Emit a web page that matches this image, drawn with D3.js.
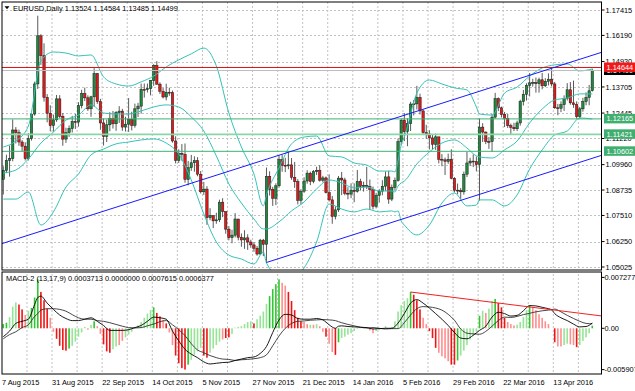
<!DOCTYPE html>
<html><head><meta charset="utf-8">
<script src="https://cdn.jsdelivr.net/npm/d3@7/dist/d3.min.js"></script>
<style>
html,body{margin:0;padding:0;background:#fff;}
svg{display:block;}
text{font-family:"Liberation Sans",Arial,Helvetica,sans-serif;font-size:7.4px;fill:#000;}
</style></head><body>
<svg id="chart" width="635" height="391"></svg>
<script>
// ---------------- DATA ----------------
const symbolTitle = "EURUSD,Daily";
const dateLabels = ["7 Aug 2015","31 Aug 2015","22 Sep 2015","14 Oct 2015","5 Nov 2015","27 Nov 2015","21 Dec 2015","14 Jan 2016","5 Feb 2016","29 Feb 2016","22 Mar 2016","13 Apr 2016"];
const dateLabelBar = [0,16,32,48,64,80,96,112,128,144,160,176];
const priceTicks = [1.17415,1.16190,1.14930,1.13705,1.12445,1.11220,1.09960,1.08735,1.07510,1.06250,1.05025];
const macdTicks = [0.007277,0,-0.005907];

const open = [1.0925,1.0968,1.1016,1.1025,1.1163,1.1150,1.1105,1.1085,1.1025,1.1121,
1.1240,1.1385,1.1617,1.1521,1.1320,1.1244,1.1184,1.1212,1.1313,1.1229,
1.1119,1.1150,1.1170,1.1204,1.1201,1.1280,1.1338,1.1318,1.1265,1.1323,
1.1435,1.1300,1.1197,1.1132,1.1188,1.1218,1.1193,1.1247,1.1254,1.1177,
1.1191,1.1214,1.1185,1.1265,1.1278,1.1359,1.1358,1.1362,1.1401,1.1474,
1.1384,1.1350,1.1322,1.1345,1.1343,1.1110,1.1016,1.1050,1.1046,1.0925,
1.0981,1.1005,1.1015,1.0950,1.0865,1.0878,1.0740,1.0750,1.0725,1.0730,
1.0815,1.0770,1.0685,1.0644,1.0656,1.0734,1.0646,1.0633,1.0643,1.0623,
1.0609,1.0593,1.0565,1.0632,1.0612,1.0940,1.0877,1.0834,1.0894,1.1021,
1.0993,1.0990,1.0995,1.0935,1.0914,1.0824,1.0868,1.0917,1.0955,1.0915,
1.0962,1.0969,1.0921,1.0932,1.0861,1.0826,1.0746,1.0778,1.0931,1.0922,
1.0858,1.0854,1.0873,1.0867,1.0915,1.0891,1.0896,1.0890,1.0876,1.0795,
1.0848,1.0868,1.0892,1.0937,1.0830,1.0886,1.0919,1.1107,1.1210,1.1155,
1.1194,1.1288,1.1289,1.1320,1.1255,1.1150,1.1144,1.1125,1.1094,1.1130,
1.1022,1.1019,1.1012,1.1022,1.0930,1.0873,1.0871,1.0865,1.0950,1.1004,
1.1013,1.1010,1.0996,1.1177,1.1153,1.1108,1.1107,1.1225,1.1314,1.1270,
1.1237,1.1219,1.1184,1.1176,1.1169,1.1197,1.1300,1.1335,1.1378,1.1390,
1.1392,1.1386,1.1405,1.1376,1.1398,1.1408,1.1385,1.1270,1.1268,1.1285,
1.1314,1.1357,1.1294,1.1285,1.1227,1.1265,1.1300,1.1320,1.13524];

const high = [1.0988,1.1044,1.1088,1.1214,1.1177,1.1165,1.1115,1.1104,1.1148,1.1245,
1.1396,1.1714,1.1625,1.1581,1.1336,1.1282,1.1237,1.1332,1.1331,1.1245,
1.1174,1.1185,1.1231,1.1240,1.1297,1.1357,1.1367,1.1330,1.1328,1.1461,
1.1438,1.1313,1.1218,1.1213,1.1249,1.1255,1.1254,1.1278,1.1265,1.1227,
1.1317,1.1251,1.1290,1.1294,1.1387,1.1387,1.1387,1.1403,1.1480,1.1495,
1.1393,1.1366,1.1386,1.1367,1.1353,1.1133,1.1070,1.1095,1.1098,1.1014,
1.1043,1.1036,1.1032,1.0965,1.0913,1.0892,1.0786,1.0752,1.0764,1.0827,
1.0834,1.0770,1.0700,1.0682,1.0762,1.0734,1.0664,1.0680,1.0660,1.0634,
1.0623,1.0604,1.0638,1.0638,1.0982,1.0964,1.0889,1.0906,1.1042,1.1044,
1.1029,1.1062,1.1028,1.1009,1.0926,1.0878,1.0935,1.0969,1.0962,1.0970,
1.0986,1.0993,1.0942,1.0939,1.0949,1.0845,1.0795,1.0941,1.0961,1.0933,
1.0887,1.0906,1.0906,1.0970,1.0928,1.0914,1.0985,1.0924,1.0890,1.0860,
1.0878,1.0921,1.0963,1.0966,1.0900,1.0934,1.1122,1.1218,1.1245,1.1220,
1.1299,1.1308,1.1376,1.1338,1.1262,1.1188,1.1162,1.1140,1.1146,1.1130,
1.1047,1.1030,1.1049,1.1070,1.0936,1.0905,1.0883,1.0963,1.1057,1.1029,
1.1045,1.1035,1.1218,1.1196,1.1156,1.1129,1.1241,1.1342,1.1320,1.1276,
1.1250,1.1240,1.1194,1.1198,1.1208,1.1309,1.1356,1.1388,1.1438,1.1410,
1.1416,1.1415,1.1438,1.1413,1.1436,1.1464,1.1395,1.1289,1.1301,1.1330,
1.1389,1.1394,1.1401,1.1301,1.1274,1.1318,1.1344,1.1380,1.14584];

const low = [1.0852,1.0955,1.0938,1.1012,1.1098,1.1087,1.1060,1.1016,1.1016,1.1112,
1.1232,1.1361,1.1477,1.1300,1.1200,1.1156,1.1155,1.1202,1.1221,1.1087,
1.1101,1.1130,1.1151,1.1168,1.1179,1.1267,1.1303,1.1255,1.1227,1.1275,
1.1289,1.1164,1.1088,1.1105,1.1157,1.1170,1.1159,1.1197,1.1159,1.1156,
1.1154,1.1161,1.1174,1.1226,1.1242,1.1319,1.1344,1.1330,1.1376,1.1381,
1.1337,1.1315,1.1306,1.1328,1.1102,1.1002,1.1004,1.1015,1.0909,1.0896,
1.0966,1.0962,1.0940,1.0857,1.0850,1.0706,1.0728,1.0690,1.0711,1.0719,
1.0743,1.0663,1.0631,1.0617,1.0645,1.0631,1.0600,1.0590,1.0585,1.0595,
1.0576,1.0557,1.0560,1.0555,1.0524,1.0847,1.0797,1.0801,1.0885,1.0962,
1.0960,1.0974,1.0923,1.0884,1.0804,1.0805,1.0860,1.0904,1.0897,1.0906,
1.0946,1.0914,1.0911,1.0857,1.0818,1.0711,1.0732,1.0768,1.0849,1.0848,
1.0829,1.0834,1.0815,1.0861,1.0871,1.0866,1.0878,1.0778,1.0780,1.0785,
1.0813,1.0848,1.0870,1.0807,1.0820,1.0873,1.0914,1.1090,1.1109,1.1085,
1.1158,1.1233,1.1262,1.1238,1.1144,1.1120,1.1069,1.1068,1.1067,1.1002,
1.0988,1.0946,1.1000,1.0925,1.0862,1.0853,1.0829,1.0851,1.0936,1.0990,
1.0984,1.0963,1.0822,1.1105,1.1095,1.1072,1.1058,1.1218,1.1254,1.1223,
1.1177,1.1173,1.1144,1.1158,1.1158,1.1184,1.1281,1.1305,1.1325,1.1372,
1.1343,1.1343,1.1359,1.1370,1.1378,1.1373,1.1265,1.1234,1.1249,1.1255,
1.1305,1.1285,1.1270,1.1217,1.1217,1.1251,1.1282,1.1282,1.13485];

const close = [1.0968,1.1016,1.1025,1.1163,1.1150,1.1105,1.1085,1.1025,1.1121,1.1240,
1.1385,1.1617,1.1521,1.1320,1.1244,1.1184,1.1212,1.1313,1.1229,1.1119,
1.1150,1.1170,1.1204,1.1201,1.1280,1.1338,1.1318,1.1265,1.1323,1.1435,
1.1300,1.1197,1.1132,1.1188,1.1218,1.1193,1.1247,1.1254,1.1177,1.1191,
1.1214,1.1185,1.1265,1.1278,1.1359,1.1358,1.1362,1.1401,1.1474,1.1384,
1.1350,1.1322,1.1345,1.1343,1.1110,1.1016,1.1050,1.1046,1.0925,1.0981,
1.1005,1.1015,1.0950,1.0865,1.0878,1.0740,1.0750,1.0725,1.0730,1.0815,
1.0770,1.0685,1.0644,1.0656,1.0734,1.0646,1.0633,1.0643,1.0623,1.0609,
1.0593,1.0565,1.0632,1.0612,1.0940,1.0877,1.0834,1.0894,1.1021,1.0993,
1.0990,1.0995,1.0935,1.0914,1.0824,1.0868,1.0917,1.0955,1.0915,1.0962,
1.0969,1.0921,1.0932,1.0861,1.0826,1.0746,1.0778,1.0931,1.0922,1.0858,
1.0854,1.0873,1.0867,1.0915,1.0891,1.0896,1.0890,1.0876,1.0795,1.0848,
1.0868,1.0892,1.0937,1.0830,1.0886,1.0919,1.1107,1.1210,1.1155,1.1194,
1.1288,1.1289,1.1320,1.1255,1.1150,1.1144,1.1125,1.1094,1.1130,1.1022,
1.1019,1.1012,1.1022,1.0930,1.0873,1.0871,1.0865,1.0950,1.1004,1.1013,
1.1010,1.0996,1.1177,1.1153,1.1108,1.1107,1.1225,1.1314,1.1270,1.1237,
1.1219,1.1184,1.1176,1.1169,1.1197,1.1300,1.1335,1.1378,1.1390,1.1392,
1.1386,1.1405,1.1376,1.1398,1.1408,1.1385,1.1270,1.1268,1.1285,1.1314,
1.1357,1.1294,1.1285,1.1227,1.1265,1.1300,1.1320,1.1352,1.14499];

// Bollinger band lines at these bars
const bbBar = [0,4,8,12,16,20,24,28,32,36,40,44,48,52,56,60,64,68,72,76,80,83,84,88,92,96,100,104,108,112,116,120,124,125,126,127,128,132,136,140,144,148,151,152,156,160,164,168,172,176,180,184,188];
const bbUpper = [1.1081,1.1110,1.1182,1.1496,1.1539,1.1534,1.1520,1.1525,1.1419,1.1385,
1.1375,1.1395,1.1423,1.1467,1.1501,1.1530,1.1558,1.1472,1.1245,1.1081,
1.0951,1.0797,1.0850,1.0980,1.1096,1.1129,1.1134,1.1038,1.1033,1.1004,
1.0994,1.0965,1.0965,1.0961,1.1014,1.1091,1.1129,1.1341,1.1404,1.1385,
1.1366,1.1356,1.1274,1.1240,1.1235,1.1341,1.1370,1.1423,1.1462,1.1477,
1.1481,1.1448,1.1457];
const bbMiddle = [1.0956,1.0970,1.1023,1.1100,1.1153,1.1211,1.1235,1.1284,1.1245,1.1240,
1.1240,1.1255,1.1274,1.1284,1.1274,1.1226,1.1158,1.1038,1.0903,1.0811,
1.0734,1.0686,1.0686,1.0720,1.0773,1.0816,1.0879,1.0922,1.0908,1.0883,
1.0888,1.0869,1.0869,1.0864,1.0893,1.0908,1.0917,1.0999,1.1057,1.1100,
1.1115,1.1076,1.1038,1.1033,1.1028,1.1067,1.1110,1.1197,1.1264,1.1308,
1.1317,1.1337,1.1337];
const bbLower = [1.0830,1.0830,1.0864,1.0705,1.0768,1.0888,1.0951,1.1043,1.1071,1.1096,
1.1105,1.1115,1.1120,1.1100,1.1047,1.0922,1.0758,1.0623,1.0560,1.0541,
1.0517,1.0575,1.0522,1.0459,1.0449,1.0498,1.0623,1.0806,1.0782,1.0768,
1.0782,1.0768,1.0773,1.0768,1.0773,1.0724,1.0705,1.0657,1.0705,1.0811,
1.0859,1.0797,1.0801,1.0826,1.0826,1.0797,1.0850,1.0975,1.1067,1.1139,
1.1158,1.1221,1.1216];

// horizontal levels
const levelPrices = [1.12165,1.11421,1.10602];
const resistancePrice = 1.14644;

// channel lines: [bar, price] anchor pairs
const channelUpper = [[0,1.06173],[188,1.15232]];
const channelLower = [[84,1.05242],[188,1.10266]];

// MACD-2 (13,17,9), values in thousandths (x 0.001)
const macdHist = [0.6,0.8,1.6,3.1,3.7,3.4,2.7,1.9,2.5,2.9,
4.4,7.0,5.2,4.0,2.8,1.5,-0.5,-1.5,-2.5,-3.1,
-3.2,-2.9,-2.5,-1.9,-1.2,-0.6,0.2,-0.2,0.5,1.0,
0.3,-0.8,-2.3,-3.3,-3.5,-3.0,-2.6,-2.4,-1.8,-1.3,
-0.9,-0.5,0.1,0.4,0.9,1.5,2.1,2.6,3.0,2.2,
1.7,1.2,0.7,-0.6,-2.4,-3.9,-5.0,-5.7,-5.9,-5.2,
-4.5,-3.8,-3.3,-2.8,-3.9,-4.2,-3.5,-2.9,-2.4,-1.9,
-1.6,-1.4,-1.3,-0.8,0.1,0.2,0.3,0.6,0.9,1.0,
0.7,1.3,1.8,2.4,3.5,4.6,5.6,6.3,7.0,6.5,
6.1,5.2,3.9,2.6,1.5,1.0,0.9,0.6,0.5,0.5,
0.6,0.3,-0.5,-1.2,-2.2,-3.4,-3.8,-2.0,-1.4,-1.2,
-0.9,-0.7,-0.4,-0.1,0.1,0.1,0.2,-0.3,-0.7,-0.4,
-0.2,0.0,0.3,0.0,0.2,1.0,2.4,3.3,3.9,4.3,
5.2,4.8,4.0,2.7,1.5,0.6,-0.4,-1.4,-2.8,-3.5,
-4.0,-4.3,-4.7,-5.2,-5.2,-4.6,-3.9,-3.2,-2.4,-1.6,
-1.0,-0.5,1.8,2.5,2.2,2.8,3.9,4.2,3.6,3.0,
1.5,0.9,0.6,0.4,0.5,0.9,1.6,2.6,3.3,3.0,
2.6,2.0,1.5,1.0,0.6,0.0,-2.0,-2.6,-2.6,-2.4,
-2.2,-2.3,-2.4,-2.7,-2.4,-1.8,-1.3,-0.7,0.37];
// G = green, g = light green, R = red, r = light red
const macdHistColor = "GGgggRRrgG"+"GGRRRrrRRR"+"RGgggggrgG"+"rrRRRggrrg"+"ggggggggGR"+
"RrRrrRRRRG"+"ggggRRgggg"+"rRRggggggg"+"RggggGGGGr"+"rRRRRRrrgr"+"grrRrrRGgg"+
"gggggrgrrg"+"gggrgggggg"+"GRRRrrRRRr"+"rrrRRGgggg"+"ggGgrggGRR"+"RrrrggggGr"+
"rrrrrrRrrg"+"grrRggggG";
const macdLineBar = [0,2,4,6,8,10,11,12,14,16,18,20,22,24,26,28,30,32,34,36,38,40,42,44,46,48,50,52,54,56,58,60,62,64,66,68,70,72,74,76,78,80,82,84,86,88,90,92,94,96,98,100,102,104,106,107,108,110,112,114,116,118,120,122,124,126,128,130,132,134,136,138,140,142,144,146,148,150,152,154,156,158,160,162,164,166,168,170,172,174,175,176,178,180,182,184,186,188];
const macdMain = [-1.2,-0.4,0.7,1.0,1.3,3.4,4.4,4.6,3.6,2.7,
1.9,1.4,1.1,1.1,1.3,1.5,1.0,0.4,-0.3,-0.3,
-0.3,-0.2,0.1,0.4,1.0,1.6,1.5,1.3,-0.4,-1.8,
-3.0,-3.7,-4.2,-4.8,-5.1,-5.0,-4.9,-4.85,-4.6,-4.4,
-4.2,-4.1,-3.6,-2.6,-0.6,1.2,2.0,1.9,1.4,1.3,
1.3,1.4,1.2,0.5,0.0,0.3,0.35,0.25,0.2,0.15,
0.1,-0.1,-0.05,0.0,0.0,0.75,2.1,3.6,4.1,3.6,
2.9,2.1,1.3,0.4,-0.6,-1.4,-1.5,-1.0,-0.3,0.3,
1.6,2.3,2.1,1.75,1.85,2.5,3.25,3.2,3.0,2.8,
2.65,2.1,1.5,1.1,0.6,0.2,0.25,0.76];
const macdSignal = [-1.5,-0.9,-0.5,0.1,0.5,1.7,2.1,2.6,2.8,2.8,
2.7,2.45,1.95,1.5,1.3,1.3,1.1,1.0,0.8,0.55,
0.3,0.1,0.05,0.1,0.35,0.6,0.95,1.1,0.5,-0.2,
-1.05,-2.2,-3.1,-3.5,-3.9,-4.2,-4.4,-4.45,-4.6,-4.5,
-4.45,-4.35,-4.2,-3.8,-2.5,-1.1,0.0,0.7,1.0,1.05,
1.15,1.2,1.25,1.2,1.1,0.95,0.8,0.55,0.35,0.15,
0.05,0.1,0.0,-0.1,-0.05,-0.05,0.8,1.9,2.8,3.1,
3.05,2.9,2.6,2.0,1.15,-0.1,-0.7,-0.8,-0.85,-0.45,
0.3,1.1,1.6,1.55,1.7,1.95,2.15,2.35,2.5,2.6,
2.65,2.75,2.35,1.85,1.4,1.0,0.7,0.64];
const macdReadout = [0.0003713,0.0000000,0.0007615,0.0006377];
const macdTrend = [[130,5.2],[188,1.93]];

// ---------------- DRAWING ----------------
const svg = d3.select("#chart");
const L = 2, R = 601.5, T1 = 2, B1 = 270, T2 = 272, B2 = 374;
const x = d3.scaleLinear().domain([0,188]).range([3.3,592.3]);
const y = d3.scaleLinear().domain([1.05025,1.17415]).range([267,10]);
const ym = d3.scaleLinear().domain([-0.005907,0.007277]).range([369.6,277.4]);
const K = 0.001;

svg.append("rect").attr("width",635).attr("height",391).attr("fill","#fff");
const defs = svg.append("defs");
defs.append("clipPath").attr("id","cm").append("rect").attr("x",L).attr("y",T1).attr("width",R-L).attr("height",B1-T1);
defs.append("clipPath").attr("id","cd").append("rect").attr("x",L).attr("y",T2).attr("width",R-L).attr("height",B2-T2);

const gMain = svg.append("g").attr("clip-path","url(#cm)");
const gMacd = svg.append("g").attr("clip-path","url(#cd)");
const gridC = "#c2c2c2";

// grid
gMain.selectAll("line.hg").data(priceTicks).join("line").attr("class","hg")
  .attr("x1",L).attr("x2",R).attr("y1",d=>Math.round(y(d))+0.5).attr("y2",d=>Math.round(y(d))+0.5)
  .attr("stroke",gridC).attr("stroke-dasharray","2,2");
const vBars = d3.range(8,189,8);
[gMain,gMacd].forEach(g=>{
  g.selectAll("line.vg").data(vBars).join("line").attr("class","vg")
   .attr("x1",i=>x(i)-1.4).attr("x2",i=>x(i)-1.4).attr("y1",T1).attr("y2",B2)
   .attr("stroke",gridC).attr("stroke-dasharray","2,2");
});

// candles
const bars = d3.range(close.length);
gMain.selectAll("line.wick").data(bars).join("line").attr("class","wick")
  .attr("x1",i=>x(i)).attr("x2",i=>x(i)).attr("y1",i=>y(high[i])).attr("y2",i=>y(low[i]))
  .attr("stroke","#5a5a5a").attr("stroke-width",1);
gMain.selectAll("rect.body").data(bars).join("rect").attr("class","body")
  .attr("x",i=>x(i)-1.2).attr("width",2.4)
  .attr("y",i=>y(Math.max(open[i],close[i])))
  .attr("height",i=>Math.max(0.9,Math.abs(y(open[i])-y(close[i]))))
  .attr("fill",i=>close[i]>=open[i]?"#1d8a3c":"#e31818")
  .attr("stroke","#1a1a1a").attr("stroke-width",0.5);

// bollinger
const bbLine = arr => d3.line().x((d,k)=>x(bbBar[k])).y(d=>y(d)).curve(d3.curveMonotoneX)(arr);
[bbUpper,bbMiddle,bbLower].forEach(a=>{
  gMain.append("path").attr("d",bbLine(a)).attr("fill","none").attr("stroke","#35c2b6").attr("stroke-width",1);
});

// bid line and levels
gMain.append("line").attr("x1",L).attr("x2",R).attr("y1",y(close[188])).attr("y2",y(close[188])).attr("stroke","#bdbdbd").attr("stroke-width",1);
gMain.append("line").attr("x1",L).attr("x2",R).attr("y1",y(resistancePrice)).attr("y2",y(resistancePrice)).attr("stroke","#e01010").attr("stroke-width",1);
const lvlStroke = ["#3cb371","#8ad6a6","#3cb371"], lvlW = [1,1.6,1];
levelPrices.forEach((p,k)=>{
  gMain.append("line").attr("x1",L).attr("x2",R).attr("y1",y(p)).attr("y2",y(p)).attr("stroke",lvlStroke[k]).attr("stroke-width",lvlW[k]);
});

// channel lines
function ext(pair, i0, i1){
  const [[a,pa],[b,pb]] = pair; const s = (pb-pa)/(b-a);
  return [[i0, pa+s*(i0-a)],[i1, pa+s*(i1-a)]];
}
[ext(channelUpper,-2,193), ext(channelLower,84,193)].forEach(seg=>{
  gMain.append("line").attr("x1",x(seg[0][0])).attr("y1",y(seg[0][1])).attr("x2",x(seg[1][0])).attr("y2",y(seg[1][1]))
   .attr("stroke","#1a1aff").attr("stroke-width",1);
});

// MACD histogram
const hc = {G:"#2fc62f",g:"#96e496",R:"#f01414",r:"#ff8e8e"};
gMacd.selectAll("rect.h").data(bars).join("rect").attr("class","h")
  .attr("x",i=>x(i)-0.8).attr("width",1.6)
  .attr("y",i=>ym(Math.max(0,macdHist[i]*K)))
  .attr("height",i=>Math.abs(ym(macdHist[i]*K)-ym(0)))
  .attr("fill",i=>hc[macdHistColor[i]]);
const mLine = arr => d3.line().x((d,k)=>x(macdLineBar[k])).y(d=>ym(d*K)).curve(d3.curveMonotoneX)(arr);
gMacd.append("path").attr("d",mLine(macdSignal)).attr("fill","none").attr("stroke","#333").attr("stroke-width",0.9);
gMacd.append("path").attr("d",mLine(macdMain)).attr("fill","none").attr("stroke","#000").attr("stroke-width",0.9);
const mt = ext(macdTrend,130,193);
gMacd.append("line").attr("x1",x(mt[0][0])).attr("y1",ym(mt[0][1]*K)).attr("x2",x(mt[1][0])).attr("y2",ym(mt[1][1]*K))
  .attr("stroke","#f02020").attr("stroke-width",1.1);

// frames
svg.append("rect").attr("x",L).attr("y",T1).attr("width",R-L).attr("height",B1-T1).attr("fill","none").attr("stroke","#000").attr("stroke-width",1);
svg.append("rect").attr("x",L).attr("y",T2).attr("width",R-L).attr("height",B2-T2).attr("fill","none").attr("stroke","#000").attr("stroke-width",1);

// price axis
svg.selectAll("line.pt").data(priceTicks).join("line").attr("class","pt")
  .attr("x1",R).attr("x2",R+3).attr("y1",d=>y(d)).attr("y2",d=>y(d)).attr("stroke","#000");
svg.selectAll("text.pl").data(priceTicks).join("text").attr("class","pl")
  .attr("x",R+4).attr("y",d=>y(d)).attr("dy","0.35em").text(d=>d.toFixed(5));

function tag(p, fill, txt){
  const cy = y(p);
  svg.append("rect").attr("x",R+2.5).attr("y",cy-5).attr("width",34).attr("height",9.5).attr("fill",fill);
  svg.append("text").attr("x",R+5).attr("y",cy).attr("dy","0.35em").style("fill","#fff").text(txt);
}
tag(close[188],"#000",close[188].toFixed(5));
tag(resistancePrice,"#f01818",resistancePrice.toFixed(5));
levelPrices.forEach(p=>tag(p,"#3fae6f",p.toFixed(5)));

// MACD axis
svg.selectAll("line.mt").data(macdTicks).join("line").attr("class","mt")
  .attr("x1",R).attr("x2",R+3).attr("y1",d=>ym(d)).attr("y2",d=>ym(d)).attr("stroke","#000");
svg.selectAll("text.ml").data(macdTicks).join("text").attr("class","ml")
  .attr("x",R+3).attr("y",d=>ym(d)).attr("dy","0.35em")
  .text(d=>d===0?"0.00":d.toFixed(6));

// time axis
svg.selectAll("text.tl").data(dateLabels).join("text").attr("class","tl")
  .attr("x",(d,k)=>x(dateLabelBar[k])-1.4).attr("y",385).text(d=>d);

// titles
svg.append("path").attr("d","M4.5,6.3 L9.5,6.3 L7,9.3 Z").attr("fill","#000");
svg.append("text").attr("x",13).attr("y",10.6)
  .text(`${symbolTitle} ${open[188].toFixed(5)} ${high[188].toFixed(5)} ${low[188].toFixed(5)} ${close[188].toFixed(5)}`);
svg.append("text").attr("x",6).attr("y",281.3)
  .text(`MACD-2 (13,17,9) ${macdReadout.map(v=>v.toFixed(7)).join(" ")}`);
</script></body></html>
